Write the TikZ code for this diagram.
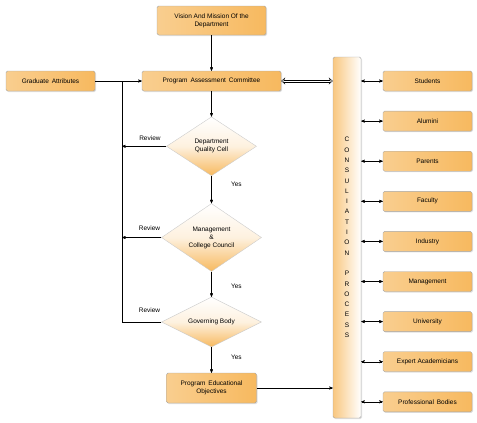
\documentclass[tikz,border=0pt]{standalone}
\usepackage{fontspec}
\setmainfont{Liberation Sans}
\usetikzlibrary{positioning, arrows, arrows.meta, shapes.geometric, shadows}
\definecolor{boxorange}{RGB}{247,185,95}
\tikzset{>=stealth', node distance=40pt,
    box/.style={draw=gray!70, thin, rounded corners=1.5pt, left color=boxorange!70, middle color=white, right color=boxorange,
        drop shadow={shadow xshift=1pt, shadow yshift=-1pt, opacity=0.25}, font=\fontsize{6.5}{8}\selectfont, align=center, inner sep=2pt},
    decision/.style={diamond, draw=gray!40, thin, top color=white, bottom color=boxorange, middle color=boxorange!20,
        font=\fontsize{6.5}{8}\selectfont, align=center, inner sep=0pt, aspect=1.5},
    party/.style={box, minimum width=89pt, minimum height=20pt},
    note/.style={font=\fontsize{6.5}{8}\selectfont},
    hollow/.style={{Stealth[open, length=4pt, width=7pt]}-{Stealth[open, length=4pt, width=7pt]}}
}

\begin{document}
\begin{tikzpicture}[x=1pt, y=-1pt]
    \useasboundingbox (0,0) rectangle (477,423);

    \node[box, minimum width=109pt, minimum height=29pt] (vision) at (211.5,20.5) {Vision And Mission Of the\\Department};
    \node[box, minimum width=139pt, minimum height=20pt] (pac) [below of=vision, node distance=60.5pt] {Program\, Assessment\, Committee};
    \node[box, minimum width=89pt, minimum height=20pt] (ga) [left of=pac, node distance=161pt] {Graduate\, Attributes};
    \node[decision, minimum width=90pt, minimum height=59pt] (dqc) [below of=pac, node distance=65.3pt] {Department\\Quality Cell};
    \node[decision, minimum width=100pt, minimum height=68pt] (mcc) [below of=dqc, node distance=91.2pt] {Management\\\&\\College Council};
    \node[decision, minimum width=100pt, minimum height=50pt] (gb) [below of=mcc, node distance=84.5pt] {Governing Body};
    \node[box, minimum width=90pt, minimum height=30pt] (peo) [below of=gb, node distance=66pt] {Program\, Educational\\Objectives};
    \coordinate (lx) at (122,81);

    \node[box, left color=boxorange!80, middle color=boxorange!35, right color=white, minimum width=28pt, minimum height=361pt,
          font=\fontsize{6.5}{10.3}\selectfont] (cp) at (347,237.5)
          {C\\O\\N\\S\\U\\L\\I\\A\\T\\I\\O\\N\\[10.3pt]P\\R\\O\\C\\E\\S\\S};

    \node[party] (students) at (427.5,81) {Students};
    \node[party] (alumini) [below of=students, node distance=40.1pt] {Alumini};
    \node[party] (parents) [below of=alumini, node distance=40.1pt] {Parents};
    \node[party] (faculty) [below of=parents, node distance=40.1pt] {Faculty};
    \node[party] (industry) [below of=faculty, node distance=40.1pt] {Industry};
    \node[party] (management) [below of=industry, node distance=40.1pt] {Management};
    \node[party] (university) [below of=management, node distance=40.1pt] {University};
    \node[party] (expert) [below of=university, node distance=40.1pt] {Expert Academicians};
    \node[party] (bodies) [below of=expert, node distance=40.1pt] {Professional\, Bodies};

    % main flow
    \draw[->] (vision) -- (pac);
    \draw[->] (ga) -- (pac);
    \draw[->] (pac) -- (dqc);
    \draw[->] (dqc) -- node[note, pos=.3, right=16pt]{Yes} (mcc);
    \draw[->] (mcc) -- node[note, pos=.6, right=16pt]{Yes} (gb);
    \draw[->] (gb) -- node[note, pos=.4, right=16pt]{Yes} (peo);
    \draw[->] (peo) -- (peo.east -| cp.west);

    % review loop
    \draw[->] (dqc.west) -- node[note, pos=.37, above=2pt]{Review} (dqc.west -| lx);
    \draw[->] (mcc.west) -- node[note, pos=.3, above=3pt]{Review} (mcc.west -| lx);
    \draw (gb.west) -- node[note, pos=.3, above=6pt]{Review} (gb.west -| lx) -- (lx);

    % link to consultation, a hollow double arrow
    \draw[hollow, line width=0.4pt] (pac.east) -- (pac.east -| cp.west);
    \draw[white, line width=1.4pt, shorten <=3pt, shorten >=3pt] (pac.east) -- (pac.east -| cp.west);
    \draw[line width=0.5pt, shorten <=3pt, shorten >=3pt] ([yshift=1pt]pac.east) -- ([yshift=1pt]pac.east -| cp.west);
    \draw[line width=0.5pt, shorten <=3pt, shorten >=3pt] ([yshift=-1pt]pac.east) -- ([yshift=-1pt]pac.east -| cp.west);

    % consultation
    \draw[<->] (students.west -| cp.east) -- (students);
    \draw[<->] (alumini.west -| cp.east) -- (alumini);
    \draw[<->] (parents.west -| cp.east) -- (parents);
    \draw[<->] (faculty.west -| cp.east) -- (faculty);
    \draw[<->] (industry.west -| cp.east) -- (industry);
    \draw[<->] (management.west -| cp.east) -- (management);
    \draw[<->] (university.west -| cp.east) -- (university);
    \draw[<->] (expert.west -| cp.east) -- (expert);
    \draw[<->] (bodies.west -| cp.east) -- (bodies);
\end{tikzpicture}
\end{document}
